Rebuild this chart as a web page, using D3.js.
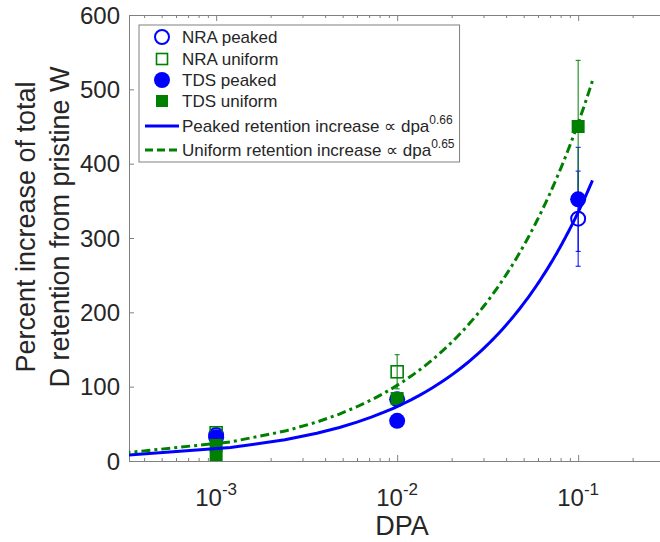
<!DOCTYPE html>
<html>
<head>
<meta charset="utf-8">
<script src="https://cdn.jsdelivr.net/npm/d3@7"></script>
<style>
  html, body { margin: 0; padding: 0; background: #fff; }
  svg { display: block; font-family: "Liberation Sans", Arial, Helvetica, sans-serif; }
</style>
</head>
<body>
<svg id="chart" width="660" height="542"></svg>
<script>
// ---- data ----
const nraPeakedDpa = [0.001, 0.1];
const nraPeakedVal = [35, 326];
const nraPeakedErr = [0, 64];

const nraUniformDpa = [0.001, 0.01];
const nraUniformVal = [38, 120];
const nraUniformErr = [0, 23];

const tdsPeakedDpa = [0.001, 0.01, 0.01, 0.1];
const tdsPeakedVal = [32, 83, 54, 352];
const tdsPeakedErr = [0, 0, 0, 70];

const tdsUniformDpa = [0.001, 0.001, 0.01, 0.1];
const tdsUniformVal = [21, 7, 84, 450];
const tdsUniformErr = [0, 0, 0, 89];

// power-law fits: retention increase = coef * dpa^exp
const peakedCoef = 1530, peakedExp = 0.66;
const uniformCoef = 2030, uniformExp = 0.65;
// dpa grid where the fits are evaluated
const fitDpa = [0.0003].concat(d3.range(1, 101).map(i => i * 0.0012));

const xTickExps = [-3, -2, -1];
const yTicks = [0, 100, 200, 300, 400, 500, 600];

// ---- layout ----
const svg = d3.select("#chart");
const plotL = 129, plotT = 15, plotB = 461;
const xLim = [3.3e-4, 0.35];
const pxPerDecade = 181;
const plotR = plotL + pxPerDecade * Math.log10(xLim[1] / xLim[0]);

const x = d3.scaleLog().domain(xLim).range([plotL, plotR]);
const y = d3.scaleLinear().domain([0, 600]).range([plotB, plotT]);

const BLUE = "#0000ff", GREEN = "#008000";
const axisColor = "#808080", textColor = "#262626";

// ---- axes ----
const majorX = xTickExps.map(e => Math.pow(10, e));
const minorX = [];
for (let e = -4; e <= -1; e++) for (let m = 2; m <= 9; m++) {
  const v = m * Math.pow(10, e);
  if (v > xLim[0] && v < xLim[1]) minorX.push(v);
}

function styleAxis(g) {
  g.select(".domain").attr("stroke", axisColor).attr("stroke-width", 1);
  g.selectAll(".tick line").attr("stroke", axisColor);
  g.selectAll(".tick text").remove();
}

svg.append("g").attr("transform", `translate(0,${plotB})`)
  .call(d3.axisBottom(x).tickValues(majorX).tickSize(-6).tickSizeOuter(0).tickFormat(""))
  .call(styleAxis);
svg.append("g").attr("transform", `translate(0,${plotB})`)
  .call(d3.axisBottom(x).tickValues(minorX).tickSize(-3).tickSizeOuter(0).tickFormat(""))
  .call(styleAxis);
svg.append("g").attr("transform", `translate(0,${plotT})`)
  .call(d3.axisTop(x).tickValues(majorX).tickSize(-6).tickSizeOuter(0).tickFormat(""))
  .call(styleAxis);
svg.append("g").attr("transform", `translate(0,${plotT})`)
  .call(d3.axisTop(x).tickValues(minorX).tickSize(-3).tickSizeOuter(0).tickFormat(""))
  .call(styleAxis);
svg.append("g").attr("transform", `translate(${plotL},0)`)
  .call(d3.axisLeft(y).tickValues(yTicks).tickSize(-5).tickSizeOuter(0).tickFormat(""))
  .call(styleAxis);

// y tick labels
svg.append("g").selectAll("text").data(yTicks).join("text")
  .attr("x", plotL - 9).attr("y", d => y(d) + 8.5)
  .attr("text-anchor", "end").attr("font-size", 24).attr("fill", textColor)
  .text(d => d);

// x tick labels: 10^e
const xl = svg.append("g").selectAll("text").data(xTickExps).join("text")
  .attr("x", d => x(Math.pow(10, d))).attr("y", 506)
  .attr("text-anchor", "middle").attr("font-size", 24).attr("fill", textColor);
xl.append("tspan").text("10");
xl.append("tspan").attr("font-size", 17).attr("dy", -11).text(d => "-" + Math.abs(d));

// axis titles
svg.append("text").attr("x", 402).attr("y", 535)
  .attr("text-anchor", "middle").attr("font-size", 27).attr("fill", textColor)
  .text("DPA");
const yl = svg.append("text").attr("transform", "translate(0,227) rotate(-90)")
  .attr("text-anchor", "middle").attr("font-size", 27).attr("fill", textColor);
yl.append("tspan").attr("x", 0).attr("y", 35).text("Percent increase of total");
yl.append("tspan").attr("x", 0).attr("y", 69).text("D retention from pristine W");

// ---- plot content (clipped to the axes) ----
svg.append("clipPath").attr("id", "plotClip")
  .append("rect").attr("x", plotL).attr("y", plotT).attr("width", plotR - plotL).attr("height", plotB - plotT);
const plot = svg.append("g").attr("clip-path", "url(#plotClip)");

function series(dpa, val, err) {
  return dpa.map((d, i) => ({ dpa: d, val: val[i], err: err[i] }));
}
const nraPeaked = series(nraPeakedDpa, nraPeakedVal, nraPeakedErr);
const nraUniform = series(nraUniformDpa, nraUniformVal, nraUniformErr);
const tdsPeaked = series(tdsPeakedDpa, tdsPeakedVal, tdsPeakedErr);
const tdsUniform = series(tdsUniformDpa, tdsUniformVal, tdsUniformErr);

function errorBars(data, color) {
  const g = plot.append("g").attr("stroke", color).attr("stroke-width", 1).attr("fill", "none");
  data.filter(d => d.err > 0).forEach(d => {
    const cx = x(d.dpa), y0 = y(d.val - d.err), y1 = y(d.val + d.err);
    g.append("line").attr("x1", cx).attr("x2", cx).attr("y1", y0).attr("y2", y1);
    g.append("line").attr("x1", cx - 2.5).attr("x2", cx + 2.5).attr("y1", y0).attr("y2", y0);
    g.append("line").attr("x1", cx - 2.5).attr("x2", cx + 2.5).attr("y1", y1).attr("y2", y1);
  });
}
errorBars(nraPeaked, BLUE);
errorBars(nraUniform, GREEN);
errorBars(tdsPeaked, BLUE);
errorBars(tdsUniform, GREEN);

const R = 8, S = 13;
plot.append("g").selectAll("circle").data(nraPeaked).join("circle")
  .attr("cx", d => x(d.dpa)).attr("cy", d => y(d.val)).attr("r", R - 1)
  .attr("fill", "none").attr("stroke", BLUE).attr("stroke-width", 2);
plot.append("g").selectAll("rect").data(nraUniform).join("rect")
  .attr("x", d => x(d.dpa) - (S - 1) / 2).attr("y", d => y(d.val) - (S - 1) / 2)
  .attr("width", S - 1).attr("height", S - 1)
  .attr("fill", "none").attr("stroke", GREEN).attr("stroke-width", 1.6);
plot.append("g").selectAll("circle").data(tdsPeaked).join("circle")
  .attr("cx", d => x(d.dpa)).attr("cy", d => y(d.val)).attr("r", R)
  .attr("fill", BLUE);
plot.append("g").selectAll("rect").data(tdsUniform).join("rect")
  .attr("x", d => x(d.dpa) - S / 2).attr("y", d => y(d.val) - S / 2)
  .attr("width", S).attr("height", S).attr("fill", GREEN);

// fit curves
const line = d3.line().x(d => x(d[0])).y(d => y(d[1]));
plot.append("path")
  .attr("d", line(fitDpa.map(d => [d, peakedCoef * Math.pow(d, peakedExp)])))
  .attr("fill", "none").attr("stroke", BLUE).attr("stroke-width", 3);
plot.append("path")
  .attr("d", line(fitDpa.map(d => [d, uniformCoef * Math.pow(d, uniformExp)])))
  .attr("fill", "none").attr("stroke", GREEN).attr("stroke-width", 3)
  .attr("stroke-dasharray", "9,4,3,4");

// ---- legend ----
const lg = svg.append("g");
const box = lg.append("rect").attr("x", 139).attr("y", 25).attr("height", 137)
  .attr("fill", "#fff").attr("stroke", axisColor).attr("stroke-width", 1);
const legendFont = 17;
const mx = 162, tx = 182;
const rowsY = [37, 59, 80, 101, 126, 150];

lg.append("circle").attr("cx", mx).attr("cy", rowsY[0]).attr("r", R - 1)
  .attr("fill", "none").attr("stroke", BLUE).attr("stroke-width", 2);
lg.append("rect").attr("x", mx - 5.5).attr("y", rowsY[1] - 5.5).attr("width", 11).attr("height", 11)
  .attr("fill", "none").attr("stroke", GREEN).attr("stroke-width", 1.6);
lg.append("circle").attr("cx", mx).attr("cy", rowsY[2]).attr("r", R).attr("fill", BLUE);
lg.append("rect").attr("x", mx - 6).attr("y", rowsY[3] - 6).attr("width", 12).attr("height", 12)
  .attr("fill", GREEN);
lg.append("line").attr("x1", 145).attr("x2", 179).attr("y1", rowsY[4]).attr("y2", rowsY[4])
  .attr("stroke", BLUE).attr("stroke-width", 3);
lg.append("line").attr("x1", 145).attr("x2", 179).attr("y1", rowsY[5]).attr("y2", rowsY[5])
  .attr("stroke", GREEN).attr("stroke-width", 3).attr("stroke-dasharray", "8,4");

const labels = ["NRA peaked", "NRA uniform", "TDS peaked", "TDS uniform"];
const texts = [];
labels.forEach((t, i) => {
  texts.push(lg.append("text").attr("x", tx).attr("y", rowsY[i] + 6)
    .attr("font-size", legendFont).attr("fill", textColor).text(t));
});
[["Peaked retention increase \u221D dpa", peakedExp], ["Uniform retention increase \u221D dpa", uniformExp]]
  .forEach(([t, e], i) => {
    const tt = lg.append("text").attr("x", tx).attr("y", rowsY[4 + i] + 6)
      .attr("font-size", legendFont).attr("fill", textColor);
    tt.append("tspan").text(t);
    tt.append("tspan").attr("font-size", 12).attr("dy", -8).text(e.toFixed(2));
    texts.push(tt);
  });
const maxRight = d3.max(texts, t => tx + t.node().getComputedTextLength());
box.attr("width", maxRight + 5 - 139);
</script>
</body>
</html>
